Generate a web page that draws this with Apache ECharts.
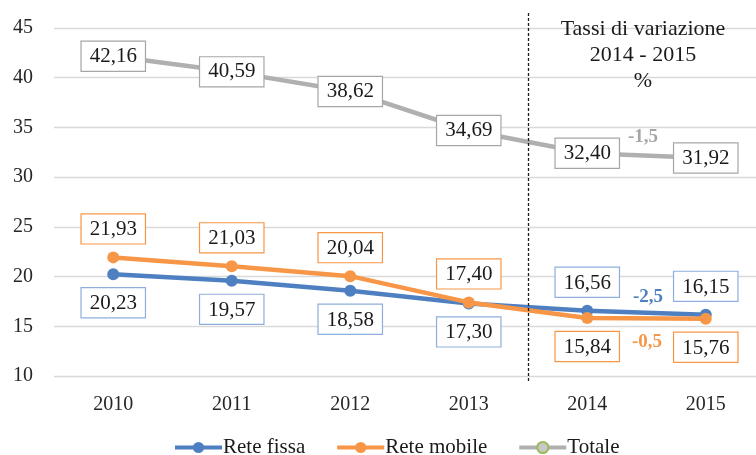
<!DOCTYPE html>
<html>
<head>
<meta charset="utf-8">
<script src="https://cdn.jsdelivr.net/npm/echarts@6/dist/echarts.min.js"></script>
<style>html,body{margin:0;padding:0;background:#fff;overflow:hidden;}#c{width:765px;height:455px;}</style>
</head>
<body>
<div id="c"></div>
<script>
var categories = ['2010', '2011', '2012', '2013', '2014', '2015'];
var reteFissa = [20.23, 19.57, 18.58, 17.30, 16.56, 16.15];
var reteMobile = [21.93, 21.03, 20.04, 17.40, 15.84, 15.76];
var totale = [42.16, 40.59, 38.62, 34.69, 32.40, 31.92];
var fissaLabelPos = ['bottom', 'bottom', 'bottom', 'bottom', 'top', 'top'];
var mobileLabelPos = ['top', 'top', 'top', 'top', 'bottom', 'bottom'];
var yTicks = {min: 10, max: 45, interval: 5};
var noteTitle = 'Tassi di variazione\n2014 - 2015\n%';
var notes = [
  {text: '-1,5', color: '#A6A6A6', x: 643, y: 137},
  {text: '-2,5', color: '#4E80C1', x: 648, y: 297},
  {text: '-0,5', color: '#F79646', x: 647, y: 342}
];

var FONT = 'Liberation Serif';
function fmt(v) { return v.toFixed(2).replace('.', ','); }
function boxLabel(border) {
  return {
    show: true, fontFamily: FONT, fontSize: 21, color: '#1a1a1a',
    backgroundColor: '#fff', borderColor: border, borderWidth: 1.2,
    padding: [5, 8, 3, 8], distance: 8,
    formatter: function (p) { return fmt(p.value); }
  };
}
function withPos(values, positions) {
  return values.map(function (v, i) { return {value: v, label: {position: positions[i]}}; });
}

var chart = echarts.init(document.getElementById('c'));
chart.setOption({
  animation: false,
  backgroundColor: '#fff',
  grid: {left: 54, right: 0, top: 28, bottom: 79},
  xAxis: {
    type: 'category', data: categories, boundaryGap: true,
    axisLine: {show: false}, axisTick: {show: false},
    axisLabel: {fontFamily: FONT, fontSize: 20, color: '#262626', margin: 19}
  },
  yAxis: {
    type: 'value', min: yTicks.min, max: yTicks.max, interval: yTicks.interval,
    axisLine: {show: false}, axisTick: {show: false},
    axisLabel: {fontFamily: FONT, fontSize: 20, color: '#262626', margin: 21},
    splitLine: {lineStyle: {color: '#D9D9D9', width: 1.3}}
  },
  legend: {
    bottom: -8, left: 168, itemWidth: 47, itemHeight: 14, itemGap: 30,
    lineStyle: {width: 4},
    textStyle: {fontFamily: FONT, fontSize: 21, color: '#1a1a1a', padding: [0, 0, 0, -4]},
    data: ['Rete fissa', 'Rete mobile', 'Totale']
  },
  series: [
    {
      name: 'Totale', type: 'line', data: totale, z: 2,
      symbol: 'circle', symbolSize: 11,
      lineStyle: {color: '#B0B0B0', width: 4.5},
      itemStyle: {color: '#C8C8C8', borderColor: '#9BBB59', borderWidth: 1.5},
      label: Object.assign(boxLabel('#A6A6A6'), {position: 'inside'})
    },
    {
      name: 'Rete fissa', type: 'line', data: withPos(reteFissa, fissaLabelPos), z: 3,
      symbol: 'circle', symbolSize: 12,
      lineStyle: {color: '#4E80C1', width: 4.5},
      itemStyle: {color: '#4E80C1'},
      label: boxLabel('#8EAEDC')
    },
    {
      name: 'Rete mobile', type: 'line', data: withPos(reteMobile, mobileLabelPos), z: 4,
      symbol: 'circle', symbolSize: 12,
      lineStyle: {color: '#F79646', width: 4.5},
      itemStyle: {color: '#F79646'},
      label: boxLabel('#F79646')
    }
  ]
});

var xa = chart.convertToPixel({xAxisIndex: 0}, 3);
var xb = chart.convertToPixel({xAxisIndex: 0}, 4);
var xm = Math.round((xa + xb) / 2) + 0.5;
var graphics = [
  {type: 'line', shape: {x1: xm, y1: 13, x2: xm, y2: 383}, style: {stroke: '#1a1a1a', lineWidth: 1.3, lineDash: [3, 2]}, z: 10},
  {type: 'text', x: 643, y: 16, style: {text: noteTitle, fontFamily: FONT, fontSize: 22, fill: '#1a1a1a', align: 'center', verticalAlign: 'top', lineHeight: 26}, z: 10}
];
notes.forEach(function (n) {
  graphics.push({type: 'text', x: n.x, y: n.y, style: {text: n.text, fontFamily: FONT, fontSize: 19, fontWeight: 'bold', fill: n.color, align: 'center', verticalAlign: 'middle'}, z: 10});
});
chart.setOption({graphic: graphics});
</script>
</body>
</html>
